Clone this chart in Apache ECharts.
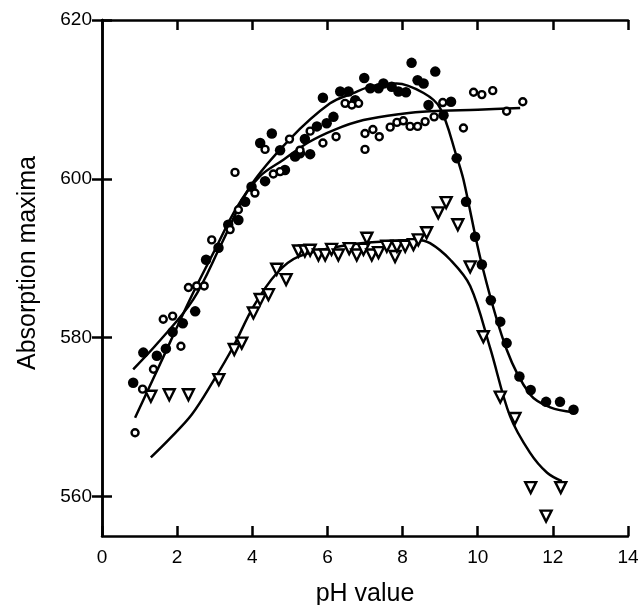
<!DOCTYPE html>
<html>
<head>
<meta charset="utf-8">
<script src="https://cdn.jsdelivr.net/npm/echarts@6/dist/echarts.min.js"></script>
<style>
html,body{margin:0;padding:0;background:#fff;}
#c{width:642px;height:605px;}
</style>
</head>
<body>
<div id="c"></div>
<script>
// ---- data ----
const filledPH  = [0.83,1.10,1.46,1.70,1.88,2.15,2.48,2.77,3.10,3.36,3.63,3.81,3.98,4.21,4.34,4.52,4.74,4.87,5.14,5.27,5.40,5.54,5.72,5.88,5.98,6.16,6.34,6.56,6.74,6.98,7.14,7.36,7.49,7.71,7.89,8.09,8.24,8.40,8.56,8.69,8.87,9.09,9.29,9.44,9.69,9.93,10.11,10.35,10.60,10.77,11.11,11.41,11.82,12.19,12.55];
const filledAbs = [574.3,578.1,577.7,578.6,580.7,581.8,583.3,589.8,591.3,594.2,594.8,597.1,599.0,604.5,599.7,605.7,603.6,601.1,602.8,603.2,605.0,603.1,606.6,610.2,607.0,607.8,611.0,611.0,609.9,612.7,611.4,611.4,612.0,611.6,611.0,610.9,614.6,612.4,612.0,609.3,613.5,608.0,609.7,602.6,597.1,592.7,589.2,584.7,582.0,579.3,575.1,573.4,571.9,571.9,570.9];

const openPH  = [0.88,1.08,1.37,1.63,1.88,2.10,2.30,2.52,2.72,2.92,3.41,3.54,3.63,4.07,4.34,4.56,4.74,4.99,5.27,5.54,5.88,6.23,6.47,6.65,6.83,7.00,7.00,7.21,7.38,7.67,7.85,8.02,8.20,8.40,8.60,8.84,9.07,9.62,9.89,10.11,10.40,10.77,11.20];
const openAbs = [568.0,573.5,576.0,582.3,582.7,578.9,586.3,586.5,586.5,592.3,593.6,600.8,596.1,598.2,603.7,600.6,600.9,605.0,603.6,606.0,604.5,605.3,609.5,609.3,609.5,605.7,603.7,606.2,605.3,606.5,607.1,607.3,606.6,606.6,607.2,607.8,609.6,606.4,610.9,610.6,611.1,608.5,609.7];

const triPH  = [1.30,1.79,2.30,3.11,3.52,3.72,4.03,4.21,4.43,4.65,4.90,5.23,5.40,5.54,5.76,5.94,6.11,6.29,6.58,6.78,6.96,7.05,7.18,7.36,7.58,7.80,7.85,8.07,8.29,8.42,8.64,8.95,9.16,9.47,9.80,10.15,10.60,10.99,11.41,11.82,12.21];
const triAbs = [572.6,572.8,572.8,574.7,578.5,579.3,583.1,584.8,585.4,588.6,587.3,590.9,590.9,591.0,590.4,590.4,591.1,590.4,591.2,590.4,591.1,592.5,590.4,590.7,591.5,590.2,591.5,591.5,591.7,592.3,593.2,595.7,597.0,594.2,588.9,580.1,572.5,569.8,561.1,557.5,561.1];

// fitted curves
const fitFilledPH  = [0.83,1.5,2.43,3.2,3.94,5.0,6.07,6.69,7.2,7.84,8.56,9.0,9.44,9.62,10.11,10.77,11.4,11.93,12.55];
const fitFilledAbs = [576.0,579.4,584.8,592.0,599.0,605.0,609.5,610.8,611.7,612.0,610.8,608.9,602.8,599.9,589.2,578.5,572.8,571.2,570.6];

const fitOpenPH  = [0.88,1.5,2.34,3.0,3.6,4.2,4.83,5.5,6.2,6.96,8.0,8.73,10.0,11.13];
const fitOpenAbs = [569.9,576.2,584.8,591.0,596.5,600.3,602.4,604.6,606.2,607.4,608.2,608.5,608.7,608.9];

const fitTriPH  = [1.30,1.81,2.39,2.96,3.50,4.03,4.65,5.23,6.6,7.5,8.38,8.73,9.27,9.80,10.33,10.86,11.39,11.84,12.24];
const fitTriAbs = [564.9,567.3,570.3,574.5,578.9,583.9,588.1,590.2,591.7,592.1,592.3,591.9,589.8,586.5,578.7,570.1,565.5,563.0,561.9];

const yTicks = [560,580,600,620];
const xLabel = 'pH value';
const yLabel = 'Absorption maxima';

// ---- build ----
const zip = (a,b) => a.map((v,i)=>[v,b[i]]);
const FONT = 'Liberation Sans, Arial, Helvetica, sans-serif';
const axisLine = {show:true, lineStyle:{color:'#000', width:2.5}};
const tick = {show:true, inside:true, length:10, lineStyle:{color:'#000', width:2.5}};

const chart = echarts.init(document.getElementById('c'), null, {renderer:'canvas'});
chart.setOption({
  backgroundColor:'#fff',
  animation:false,
  grid:{left:102, right:14, top:20, bottom:69, containLabel:false, outerBoundsMode:'none'},
  xAxis:[
    {type:'value', min:0, max:14, interval:2, position:'bottom',
     axisLine, axisTick:tick, splitLine:{show:false},
     axisLabel:{color:'#000', fontSize:19, fontFamily:FONT, margin:12},
     name:xLabel, nameLocation:'middle', nameGap:46,
     nameTextStyle:{color:'#000', fontSize:25, fontFamily:FONT}},
    {type:'value', min:0, max:14, interval:2, position:'top',
     axisLine, axisTick:tick, splitLine:{show:false}, axisLabel:{show:false}}
  ],
  yAxis:[
    {type:'value', min:555, max:620, position:'left',
     axisLine, axisTick:Object.assign({customValues:yTicks}, tick), splitLine:{show:false},
     axisLabel:{customValues:yTicks, color:'#000', fontSize:19, fontFamily:FONT, margin:10},
     name:yLabel, nameLocation:'middle', nameGap:61,
     nameTextStyle:{color:'#000', fontSize:25, fontFamily:FONT, padding:[0,0,0,30]}},
    {type:'value', min:555, max:620, position:'right',
     axisLine, axisTick:Object.assign({customValues:yTicks}, tick), splitLine:{show:false},
     axisLabel:{show:false}}
  ],
  series:[
    {type:'line', data:zip(fitFilledPH,fitFilledAbs), smooth:0.35, showSymbol:false, symbol:'none',
     lineStyle:{color:'#000', width:2.5}, z:2},
    {type:'line', data:zip(fitOpenPH,fitOpenAbs), smooth:0.35, showSymbol:false, symbol:'none',
     lineStyle:{color:'#000', width:2.5}, z:2},
    {type:'line', data:zip(fitTriPH,fitTriAbs), smooth:0.35, showSymbol:false, symbol:'none',
     lineStyle:{color:'#000', width:2.5}, z:2},
    {type:'scatter', data:zip(triPH,triAbs), symbol:'triangle', symbolRotate:180, symbolSize:11,
     itemStyle:{color:'#fff', borderColor:'#000', borderWidth:2.4, opacity:1}, z:3},
    {type:'scatter', data:zip(filledPH,filledAbs), symbol:'circle', symbolSize:10.5,
     itemStyle:{color:'#000', opacity:1}, z:4},
    {type:'scatter', data:zip(openPH,openAbs), symbol:'circle', symbolSize:7,
     itemStyle:{color:'#fff', borderColor:'#000', borderWidth:2.4, opacity:1}, z:5}
  ]
});
</script>
</body>
</html>
